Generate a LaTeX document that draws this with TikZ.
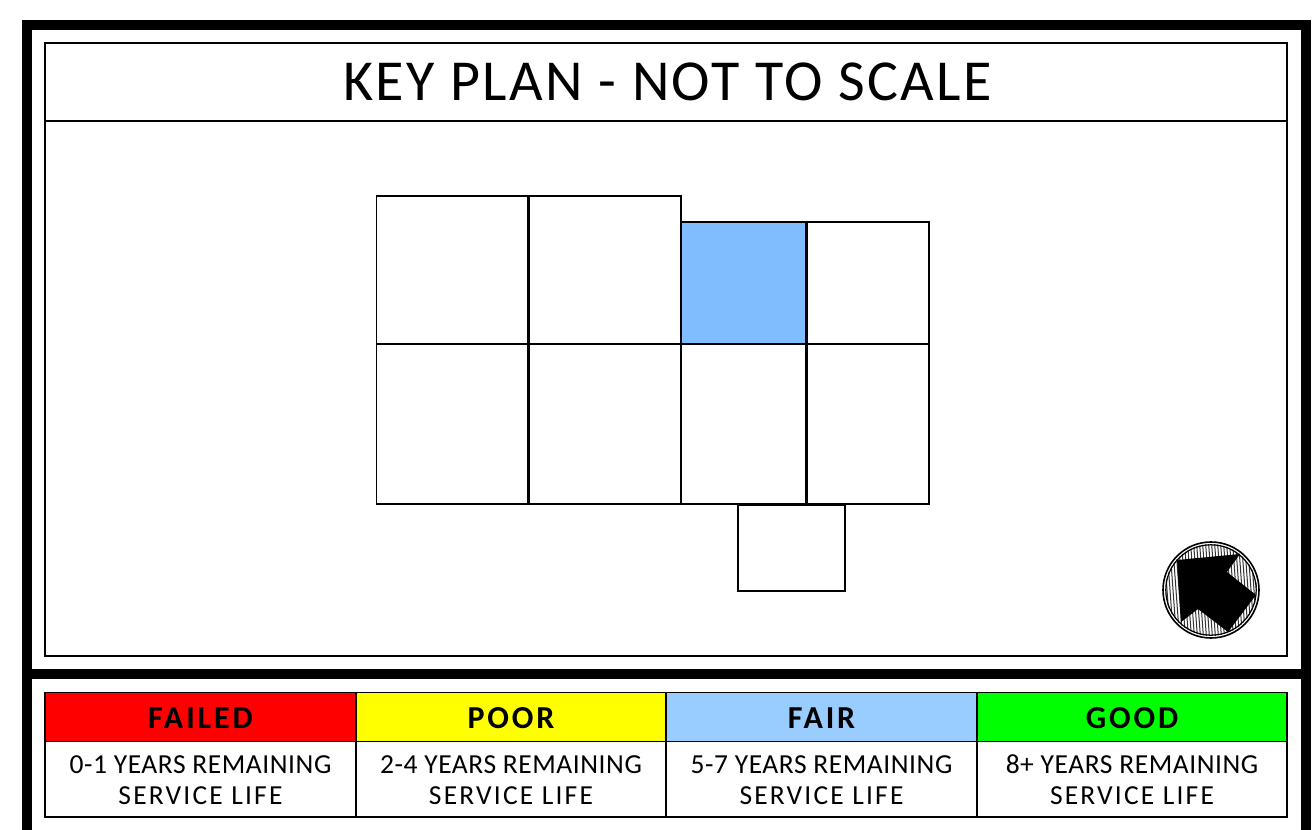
\documentclass[tikz,border=0pt]{standalone}
\usepackage{fontspec}
\setmainfont{Carlito}
\newfontfamily\titlefont[LetterSpace=4.2]{Carlito}
\newfontfamily\headfont[LetterSpace=9]{Carlito}
\newfontfamily\bodyfont[LetterSpace=2]{Carlito}
\newfontfamily\bodywidefont[LetterSpace=8]{Carlito}
\definecolor{fairblue}{HTML}{99CCFF}
\definecolor{planblue}{HTML}{80BDFF}
\definecolor{failred}{HTML}{FF0000}
\definecolor{pooryellow}{HTML}{FFFF00}
\definecolor{goodgreen}{HTML}{00FF00}
\tikzset{
  frameline/.style={line width=10pt,draw=black,line cap=butt},
  thinbox/.style={draw=black,line width=1.5pt},
  cellbox/.style={draw=black,line width=1.6pt},
  cellheavy/.style={draw=black,line width=2.2pt},
  titletext/.style={font=\titlefont\fontsize{58}{58}\selectfont,anchor=center,inner sep=0pt},
  headtext/.style={font=\headfont\bfseries\fontsize{32}{32}\selectfont,anchor=center,inner sep=0pt},
  bodytext/.style={font=\bodyfont\fontsize{27.5}{31}\selectfont,anchor=center,inner sep=0pt,align=center},
}
\newcommand{\wideline}[1]{{\bodywidefont #1}}
\begin{document}
\begin{tikzpicture}[x=1pt,y=-1pt]
\useasboundingbox (0,0) rectangle (1315,830);
\fill[white] (0,0) rectangle (1315,830);
% outer frame
\draw[frameline] (27,830) -- (27,25) -- (1306,25) -- (1306,830);
\draw[frameline] (27,674) -- (1306,674);
% key plan panel
\draw[thinbox] (45,43) rectangle (1287,656);
\draw[thinbox] (45,121) -- (1287,121);
\node[titletext] (title) at (667.5,82) {KEY PLAN - NOT TO SCALE};
% plan cells
\fill[planblue] (681,222) rectangle (806.5,344);
\draw[cellbox] (376.5,196) rectangle (528.5,344);
\draw[cellbox] (528.5,196) rectangle (681,344);
\draw[cellbox] (681,222) rectangle (806.5,344);
\draw[cellbox] (806.5,222) rectangle (929,344);
\draw[cellbox] (376.5,344) rectangle (528.5,504);
\draw[cellbox] (528.5,344) rectangle (681,504);
\draw[cellbox] (681,344) rectangle (806.5,504);
\draw[cellbox] (806.5,344) rectangle (929,504);
\draw[cellheavy] (528.5,196) -- (528.5,504);
\draw[cellheavy] (806.5,222) -- (806.5,504);
\draw[cellbox] (738,505) rectangle (845,591);
% north arrow
\begin{scope}
\clip (1211,590) circle (46);
\fill[white] (1160,540) rectangle (1262,640);
\foreach \i in {0,...,38}{
  \draw[black!80,line width=1pt] (1154+3*\i,535) -- (1162+3*\i,645);
}
\end{scope}
\draw[black,line width=1.6pt] (1211,590) circle (48);
\draw[black,line width=1.2pt] (1211,590) circle (45.2);
\fill[black] (1177,560) -- (1240,554) -- (1227,572) -- (1256,595) -- (1228,632) -- (1198,609) -- (1181,622) -- cycle;
% legend
\fill[failred] (45,692.5) rectangle (356,741.5);
\fill[pooryellow] (356,692.5) rectangle (666,741.5);
\fill[fairblue] (666,692.5) rectangle (977,741.5);
\fill[goodgreen] (977,692.5) rectangle (1287,741.5);
\draw[thinbox] (45,692.5) rectangle (1287,817);
\draw[thinbox] (45,741.5) -- (1287,741.5);
\foreach \x in {356,666,977}{\draw[thinbox] (\x,692.5) -- (\x,817);}
\node[headtext] (h1) at (200.5,718) {FAILED};
\node[headtext] (h2) at (511,718) {POOR};
\node[headtext] (h3) at (821.5,718) {FAIR};
\node[headtext] (h4) at (1132,718) {GOOD};
\node[bodytext] (b1) at (200.5,780) {0-1 YEARS REMAINING\\\wideline{SERVICE LIFE}};
\node[bodytext] (b2) at (511,780) {2-4 YEARS REMAINING\\\wideline{SERVICE LIFE}};
\node[bodytext] (b3) at (821.5,780) {5-7 YEARS REMAINING\\\wideline{SERVICE LIFE}};
\node[bodytext] (b4) at (1132,780) {8+ YEARS REMAINING\\\wideline{SERVICE LIFE}};
\end{tikzpicture}
\end{document}
